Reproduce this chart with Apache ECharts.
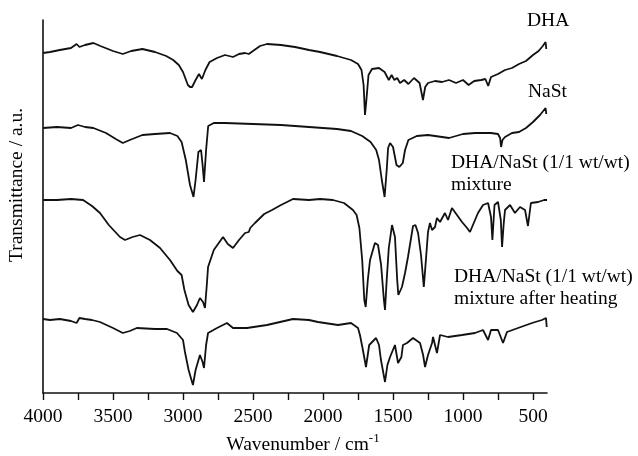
<!DOCTYPE html>
<html>
<head>
<meta charset="utf-8">
<title>FTIR spectra</title>
<style>
  html, body { margin: 0; padding: 0; background: #fff; }
  #main { width: 638px; height: 456px; }
</style>
<script src="https://cdn.jsdelivr.net/npm/echarts@6/dist/echarts.min.js"></script>
</head>
<body>
<div id="main"></div>
<script type="text/javascript">
// spectra, [wavenumber (cm-1), transmittance (a.u., offset stack)]
var dha = [
  [4000, 340], [3950, 341], [3880, 343], [3800, 345], [3760, 349], [3740, 346], [3700, 348], [3640, 350],
  [3590, 347], [3500, 342], [3430, 339], [3370, 342], [3290, 344], [3200, 341], [3120, 337], [3070, 333],
  [3030, 328], [3000, 321], [2965, 308], [2950, 306], [2935, 306], [2910, 313], [2886, 319], [2865, 314],
  [2840, 323], [2810, 331], [2757, 335], [2700, 338], [2643, 336], [2600, 339], [2557, 340], [2530, 339],
  [2500, 342], [2450, 347], [2400, 349], [2300, 348], [2200, 346], [2100, 343], [2021, 341], [1900, 337],
  [1800, 333], [1750, 329], [1725, 323], [1710, 308], [1700, 278], [1690, 293], [1675, 318], [1650, 324],
  [1600, 325], [1560, 321], [1530, 313], [1510, 318], [1490, 313], [1470, 315], [1450, 310], [1420, 313],
  [1390, 309], [1350, 315], [1310, 310], [1286, 293], [1270, 306], [1250, 310], [1200, 312], [1150, 311],
  [1100, 313], [1050, 310], [1000, 313], [960, 308], [920, 312], [870, 313], [840, 314], [820, 307],
  [800, 316], [750, 319], [700, 323], [650, 325], [600, 329], [550, 332], [500, 338], [460, 342],
  [430, 347], [410, 351], [405, 344]
];
var nast = [
  [4000, 265], [3900, 266], [3800, 265], [3750, 268], [3700, 266], [3640, 265], [3550, 260], [3480, 254],
  [3430, 250], [3380, 253], [3290, 258], [3200, 259], [3093, 260], [3040, 257], [3010, 251], [2980, 233],
  [2950, 208], [2925, 196], [2910, 213], [2890, 241], [2871, 243], [2860, 228], [2850, 211], [2835, 243],
  [2820, 267], [2780, 270], [2700, 270], [2500, 269], [2300, 268], [2100, 266], [2000, 265], [1900, 264],
  [1800, 262], [1720, 257], [1660, 251], [1620, 243], [1600, 233], [1580, 213], [1560, 196], [1545, 223],
  [1535, 245], [1521, 250], [1500, 246], [1475, 228], [1455, 226], [1430, 230], [1414, 243], [1390, 253],
  [1330, 257], [1250, 258], [1150, 256], [1100, 255], [1000, 259], [914, 260], [800, 260], [750, 259],
  [735, 255], [728, 246], [718, 253], [700, 256], [650, 260], [600, 261], [550, 265], [500, 271],
  [450, 278], [410, 285], [405, 279]
];
var mixture = [
  [4000, 193], [3900, 193], [3800, 194], [3714, 193], [3650, 187], [3593, 180], [3530, 168], [3450, 156],
  [3414, 153], [3360, 156], [3307, 158], [3236, 153], [3164, 145], [3093, 133], [3040, 122], [3010, 118],
  [2990, 103], [2960, 88], [2929, 81], [2900, 88], [2879, 95], [2857, 91], [2843, 85], [2830, 108],
  [2821, 126], [2780, 143], [2714, 156], [2680, 149], [2643, 145], [2600, 153], [2557, 160], [2530, 161],
  [2520, 165], [2486, 170], [2420, 179], [2364, 183], [2300, 188], [2214, 194], [2100, 193], [2021, 194],
  [1929, 193], [1850, 190], [1786, 183], [1760, 178], [1740, 165], [1720, 133], [1705, 93], [1695, 86],
  [1680, 113], [1664, 133], [1629, 150], [1607, 148], [1585, 128], [1565, 93], [1557, 83], [1545, 113],
  [1530, 145], [1507, 168], [1486, 156], [1470, 113], [1462, 98], [1436, 106], [1414, 120], [1393, 136],
  [1357, 167], [1340, 168], [1321, 160], [1300, 138], [1280, 106], [1265, 133], [1250, 161], [1236, 170],
  [1221, 163], [1200, 166], [1186, 175], [1164, 171], [1129, 180], [1107, 173], [1079, 185], [1043, 178],
  [1007, 171], [971, 165], [950, 161], [914, 173], [893, 180], [857, 188], [821, 190], [800, 176],
  [790, 153], [775, 188], [750, 191], [730, 173], [721, 146], [710, 168], [700, 183], [664, 188],
  [629, 180], [593, 186], [557, 183], [536, 167], [515, 190], [464, 191], [420, 193], [400, 193]
];
var heated = [
  [4000, 74], [3950, 73], [3880, 74], [3800, 72], [3760, 70], [3740, 75], [3700, 74], [3650, 73],
  [3593, 71], [3500, 65], [3430, 60], [3380, 62], [3330, 65], [3200, 64], [3114, 64], [3043, 60],
  [3000, 53], [2986, 41], [2960, 23], [2929, 8], [2910, 23], [2879, 38], [2860, 31], [2850, 25],
  [2835, 48], [2821, 60], [2757, 65], [2686, 70], [2643, 65], [2543, 65], [2400, 68], [2214, 74],
  [2100, 73], [2036, 71], [1893, 68], [1800, 70], [1750, 65], [1736, 58], [1715, 43], [1693, 26],
  [1670, 48], [1657, 50], [1621, 55], [1600, 48], [1586, 33], [1557, 11], [1540, 28], [1521, 36],
  [1486, 48], [1464, 30], [1440, 36], [1429, 48], [1400, 50], [1357, 55], [1343, 55], [1307, 50],
  [1285, 38], [1271, 26], [1250, 38], [1221, 50], [1214, 56], [1186, 40], [1164, 58], [1107, 56],
  [1007, 58], [914, 60], [857, 63], [821, 53], [800, 63], [750, 63], [714, 50], [686, 61],
  [607, 65], [507, 70], [436, 73], [407, 75], [402, 66]
];

var tickValues = [4000, 3750, 3500, 3250, 3000, 2750, 2500, 2250, 2000, 1750, 1500, 1250, 1000, 750, 500];
var labelValues = [4000, 3500, 3000, 2500, 2000, 1500, 1000, 500];
var traceLabels = [
  { text: 'DHA', x: 527, y: 10 },
  { text: 'NaSt', x: 528, y: 81 },
  { text: 'DHA/NaSt (1/1 wt/wt)\nmixture', x: 451, y: 152 },
  { text: 'DHA/NaSt (1/1 wt/wt)\nmixture after heating', x: 454, y: 266 }
];

var serif = '"Liberation Serif", "DejaVu Serif", serif';
var ink = '#111';

function lineSeries(name, data) {
  return {
    name: name,
    type: 'line',
    data: data,
    showSymbol: false,
    symbol: 'none',
    smooth: false,
    lineStyle: { color: ink, width: 1.8 }
  };
}

var graphics = traceLabels.map(function (l) {
  return {
    type: 'text',
    left: l.x,
    top: l.y,
    style: {
      text: l.text,
      font: '19.5px ' + serif,
      fill: '#000',
      lineHeight: 22
    }
  };
});
graphics.push({
  type: 'text',
  x: 17, y: 185,
  rotation: Math.PI / 2,
  style: {
    text: 'Transmittance / a.u.',
    font: '19.5px ' + serif,
    fill: '#000',
    align: 'center',
    verticalAlign: 'middle'
  }
});
graphics.push({
  type: 'text',
  x: 303, y: 445,
  style: {
    text: 'Wavenumber / cm{sup|-1}',
    font: '19.5px ' + serif,
    fill: '#000',
    align: 'center',
    verticalAlign: 'middle',
    rich: {
      sup: { font: '13px ' + serif, fill: '#000', padding: [0, 0, 12, 0] }
    }
  }
});

var myChart = echarts.init(document.getElementById('main'));
var option = {
  animation: false,
  backgroundColor: '#fff',
  grid: { left: 43, right: 91, top: 20, bottom: 63, containLabel: false },
  xAxis: {
    type: 'value',
    inverse: true,
    min: 400,
    max: 4000,
    splitLine: { show: false },
    axisLine: { show: true, onZero: false, lineStyle: { color: ink, width: 1.6 } },
    axisTick: { show: true, inside: false, length: 7, customValues: tickValues, lineStyle: { color: ink, width: 1.4 } },
    axisLabel: {
      customValues: labelValues,
      formatter: function (value) {
        return String(value);
      },
      margin: 14,
      color: '#000',
      fontSize: 19.5,
      fontFamily: serif
    }
  },
  yAxis: {
    type: 'value',
    min: 0,
    max: 373,
    splitLine: { show: false },
    axisLine: { show: true, onZero: false, lineStyle: { color: ink, width: 1.6 } },
    axisTick: { show: false },
    axisLabel: { show: false }
  },
  series: [
    lineSeries('DHA', dha),
    lineSeries('NaSt', nast),
    lineSeries('DHA/NaSt mixture', mixture),
    lineSeries('DHA/NaSt mixture after heating', heated)
  ],
  graphic: graphics
};
myChart.setOption(option);
</script>
</body>
</html>
